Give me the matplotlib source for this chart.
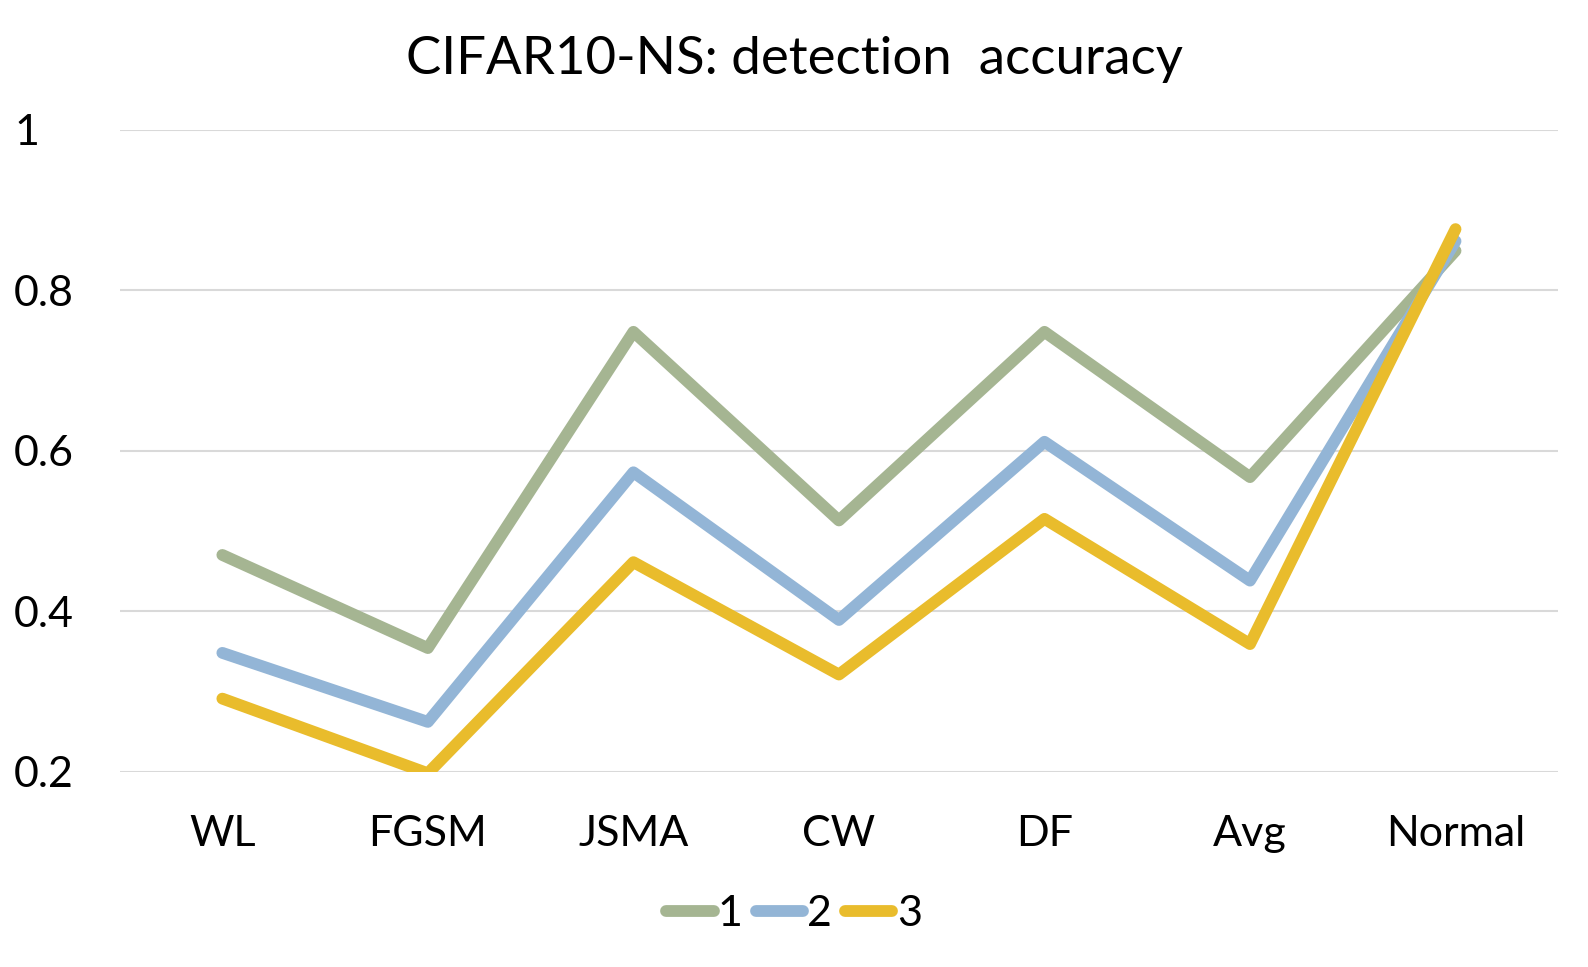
import matplotlib.pyplot as plt
import numpy as np

# data
categories = ["WL", "FGSM", "JSMA", "CW", "DF", "Avg", "Normal"]
series_names = ["1", "2", "3"]
acc_1 = [0.470, 0.354, 0.748, 0.513, 0.748, 0.567, 0.849]
acc_2 = [0.348, 0.262, 0.573, 0.389, 0.611, 0.438, 0.861]
acc_3 = [0.291, 0.198, 0.461, 0.321, 0.515, 0.359, 0.876]
y_ticks = [0.2, 0.4, 0.6, 0.8, 1.0]
y_tick_labels = ["0.2", "0.4", "0.6", "0.8", "1"]

colors = ["#A5B592", "#93B5D6", "#E9BC2C"]

plt.rcParams['font.family'] = ['Lato', 'DejaVu Sans']

fig = plt.figure(figsize=(15.88, 9.67), dpi=100)
ax = fig.add_axes([0.0753, 0.202, 0.906, 0.664])

x = np.arange(len(categories))
for vals, name, c in zip([acc_1, acc_2, acc_3], series_names, colors):
    ax.plot(x, vals, color=c, lw=8.5, label=name,
            solid_capstyle='round', solid_joinstyle='round', zorder=3)

ax.set_xlim(-0.5, len(categories) - 0.5)
ax.set_ylim(0.2, 1.0)
ax.set_yticks(y_ticks)
ax.set_yticklabels(y_tick_labels, fontsize=31)
ax.set_xticks(x)
ax.set_xticklabels(categories, fontsize=31)
ax.tick_params(length=0)
ax.tick_params(axis='x', pad=31)
ax.tick_params(axis='y', pad=76)
for lab in ax.get_yticklabels():
    lab.set_horizontalalignment('left')

ax.grid(axis='y', color='#D9D9D9', lw=1.5, zorder=0)
for s in ax.spines.values():
    s.set_visible(False)

# title and legend are centred on the figure, not the plot area
fig.suptitle("CIFAR10-NS: detection  accuracy", fontsize=38, x=0.5, y=0.938, va='center')

handles, labels = ax.get_legend_handles_labels()
fig.legend(handles, labels, loc='center', bbox_to_anchor=(0.5, 0.055), ncol=3,
           frameon=False, fontsize=31, handlelength=1.1,
           handletextpad=0.1, columnspacing=0.3)

fig.savefig("out.png", dpi=100)
